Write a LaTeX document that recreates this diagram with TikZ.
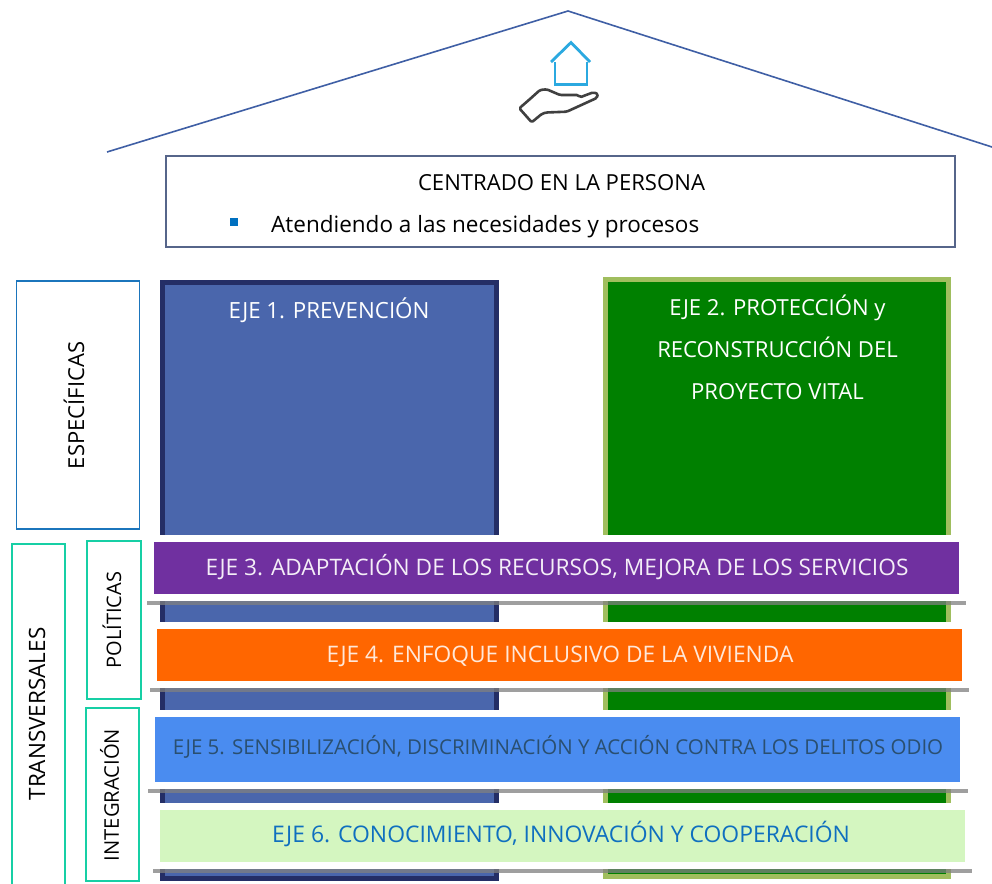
\documentclass[tikz,border=0pt]{standalone}
\usepackage{fontspec}
\setmainfont{Open Sans}
\definecolor{roofc}{HTML}{3F5FA5}
\definecolor{framec}{HTML}{56658A}
\definecolor{bluebd}{HTML}{1B75BC}
\definecolor{tealc}{HTML}{17CFA5}
\definecolor{ejeAf}{HTML}{4A66AC}
\definecolor{ejeAb}{HTML}{242E66}
\definecolor{ejeBf}{HTML}{008000}
\definecolor{ejeBb}{HTML}{A0BE5E}
\definecolor{purp}{HTML}{7030A0}
\definecolor{oran}{HTML}{FF6600}
\definecolor{blu}{HTML}{4A8CF0}
\definecolor{lgreen}{HTML}{D4F6C0}
\definecolor{iconb}{HTML}{2BA9E0}
\definecolor{iconh}{HTML}{404040}
\definecolor{txtfive}{HTML}{2A4F70}
\definecolor{txtsix}{HTML}{0F6FBF}
\definecolor{bullet}{HTML}{0070C0}
\tikzset{
  x=1pt,y=-1pt,
  sidebox/.style={draw=tealc,line width=2pt,fill=white,inner sep=0pt},
  pillar/.style={line width=5pt,inner sep=0pt},
  band/.style={inner sep=0pt,minimum height=52pt,minimum width=805pt},
  halo/.style={fill=white,draw=none},
  shadow/.style={line width=4.5pt,draw=black!50,opacity=.75},
}
\begin{document}
\begin{tikzpicture}
\useasboundingbox (0,0) rectangle (992,883);
\fill[white] (0,0) rectangle (992,883);
% roof
\coordinate (rl) at (107,152);
\coordinate (rt) at (568,11);
\coordinate (rr) at (992,147);
\draw[roofc,line width=1.6pt] (rl) -- (rt) -- (rr);
% icon
\draw[iconb,line width=2.8pt,line join=miter] (551,62) -- (571,42.5) -- (590,62);
\draw[iconb,line width=2.8pt] (555,62) -- (555,84.5) -- (587,84.5) -- (587,62);
\draw[iconh,line width=2.6pt,line join=round,rounded corners=1.5pt]
 (519.3,108.3) -- (531.7,122.3) -- (541.7,114) -- (546,112.5) -- (566.7,111.7) -- (596.7,98) -- (598,94) -- (593.3,92.3) -- (580,97.3) -- (578.3,95) -- (560,95) -- (546.7,89.3) -- (540,90) -- (530,99) -- cycle;
% top box
\node[draw=framec,line width=1.4pt,fill=white,minimum width=789pt,minimum height=91pt,inner sep=0pt] (top) at (560.5,201.5) {};
\node[font=\fontsize{22.1}{26}\selectfont,inner sep=0pt] (toptitle) at (561.5,183) {CENTRADO EN LA PERSONA};
\node[fill=bullet,minimum size=8pt,inner sep=0pt] (bul) at (234,222) {};
\node[font=\fontsize{22.5}{26}\selectfont,anchor=west,inner sep=0pt] (topline) at (271,227) {Atendiendo a las necesidades y procesos};
% pillars
\node[pillar,draw=ejeAb,fill=ejeAf,minimum width=334pt,minimum height=596pt] (ejeA) at (329,580) {};
\node[pillar,draw=ejeBb,fill=ejeBf,minimum width=343pt,minimum height=597pt] (ejeB) at (776.5,578) {};
\node[text=white,font=\fontsize{22.3}{26}\selectfont,inner sep=0pt] (ejeAt) at (329,310) {EJE 1. PREVENCIÓN};
\node[text=white,font=\fontsize{22.1}{42}\selectfont,align=center,inner sep=0pt] (ejeBt) at (777.5,347) {EJE 2. PROTECCIÓN y\\RECONSTRUCCIÓN DEL\\PROYECTO VITAL};
% side boxes
\node[draw=bluebd,line width=1.4pt,fill=white,minimum width=123pt,minimum height=248pt,inner sep=0pt] (esp) at (78,405) {};
\node[rotate=90,font=\fontsize{22}{26}\selectfont,inner sep=0pt] (espt) at (74,405.5) {ESPECÍFICAS};
\draw[tealc,line width=2pt] (11.5,884) -- (11.5,543.5) -- (64.5,543.5) -- (64.5,884);
\node[rotate=90,font=\fontsize{22.5}{26}\selectfont,inner sep=0pt] (trans) at (37,714) {TRANSVERSALES};
\node[sidebox,minimum width=54pt,minimum height=158pt] (pol) at (114,620) {};
\node[rotate=90,font=\fontsize{20}{24}\selectfont,inner sep=0pt] (polt) at (112,620) {POLÍTICAS};
\node[sidebox,minimum width=53pt,minimum height=173pt] (integ) at (112,794.5) {};
\node[rotate=90,font=\fontsize{20.2}{24}\selectfont,inner sep=0pt] (integt) at (109.5,795) {INTEGRACIÓN};
% bands
\fill[halo] (147,535) rectangle (966,601);
\draw[shadow] (147,603) -- (966,603);
\node[band,fill=purp] (e3) at (556.5,568) {};
\node[text=white!92!purp,font=\fontsize{22.7}{26}\selectfont,inner sep=0pt] (e3t) at (557,567) {EJE 3. ADAPTACIÓN DE LOS RECURSOS, MEJORA DE LOS SERVICIOS};
\fill[halo] (150,622) rectangle (969,688);
\draw[shadow] (150,690) -- (969,690);
\node[band,fill=oran] (e4) at (559.5,655) {};
\node[text=white!85!oran,font=\fontsize{22.75}{26}\selectfont,inner sep=0pt] (e4t) at (560,656) {EJE 4. ENFOQUE INCLUSIVO DE LA VIVIENDA};
\fill[halo] (148,710) rectangle (968,789);
\draw[shadow] (148,791) -- (968,791);
\node[band,fill=blu,minimum height=65pt] (e5) at (557.5,749.5) {};
\node[text=txtfive,font=\fontsize{20.5}{24}\selectfont,inner sep=0pt] (e5t) at (558,747) {EJE 5. SENSIBILIZACIÓN, DISCRIMINACIÓN Y ACCIÓN CONTRA LOS DELITOS ODIO};
\fill[halo] (153,803) rectangle (972,869);
\draw[shadow] (153,871) -- (972,871);
\node[band,fill=lgreen] (e6) at (562.5,835.5) {};
\node[text=txtsix,font=\fontsize{22.9}{26}\selectfont,inner sep=0pt] (e6t) at (561,834) {EJE 6. CONOCIMIENTO, INNOVACIÓN Y COOPERACIÓN};
\end{tikzpicture}
\end{document}
